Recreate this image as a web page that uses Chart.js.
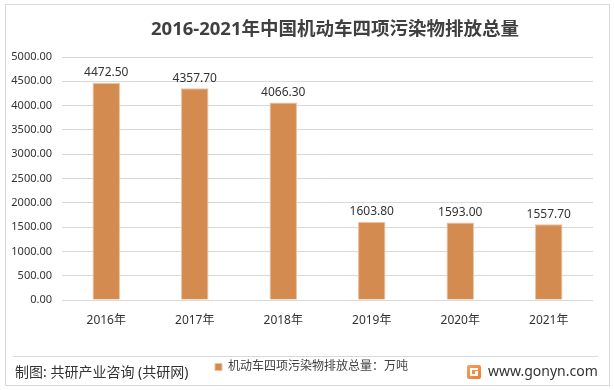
<!DOCTYPE html>
<html>
<head>
<meta charset="utf-8">
<script src="https://cdn.jsdelivr.net/npm/chart.js@4.4.1/dist/chart.umd.min.js"></script>
<style>
  html, body { margin: 0; padding: 0; background: #fff; }
  #wrap { width: 614px; height: 390px; position: relative; }
</style>
</head>
<body>
<div id="wrap"><canvas id="barChart" width="614" height="390"></canvas></div>
<script>
'use strict'

// data
var years = ['2016年', '2017年', '2018年', '2019年', '2020年', '2021年'];
var emissions = [4472.50, 4357.70, 4066.30, 1603.80, 1593.00, 1557.70];
var seriesName = '机动车四项污染物排放总量：万吨';
var chartTitle = '2016-2021年中国机动车四项污染物排放总量';
var sourceText = '制图: 共研产业咨询 (共研网)';
var siteText = 'www.gonyn.com';

var FONT = '"Noto Sans", "Noto Sans CJK SC", sans-serif';
var barColor = '#D38B4F';

// frame, title, value labels and footer
var decor = {
  id: 'decor',
  afterLayout: function(chart) {
    // legend sits a bit right of centre in the original
    chart.legend.left += 15;
    chart.legend.right += 15;
  },
  beforeDraw: function(chart) {
    var c = chart.ctx;
    c.save();
    c.fillStyle = '#fff';
    c.fillRect(0, 0, chart.width, chart.height);
    c.strokeStyle = '#D9D9D9';
    c.lineWidth = 1;
    c.strokeRect(5.5, 4.5, 604, 381);
    c.beginPath();
    c.moveTo(13, 356.5);
    c.lineTo(598, 356.5);
    c.stroke();
    c.restore();
  },
  afterDatasetsDraw: function(chart) {
    var c = chart.ctx;
    c.save();
    // title
    c.fillStyle = '#404040';
    c.font = 'bold 18.5px ' + FONT;
    c.textAlign = 'center';
    c.textBaseline = 'middle';
    c.fillText(chartTitle, 335, 30);

    // value labels
    c.font = '12px ' + FONT;
    c.fillStyle = '#333';
    c.textBaseline = 'bottom';
    chart.getDatasetMeta(0).data.forEach(function(bar, i) {
      c.fillText(emissions[i].toFixed(2), bar.x, bar.y - 4);
    });

    // footer
    c.textAlign = 'left';
    c.textBaseline = 'middle';
    c.font = '14px ' + FONT;
    c.fillStyle = '#333';
    c.fillText(sourceText, 15, 373);
    c.fillText(siteText, 488, 372);

    // logo
    var g = c.createLinearGradient(467, 365, 481, 379);
    g.addColorStop(0, '#F7A35C');
    g.addColorStop(1, '#EE7B30');
    c.fillStyle = g;
    c.beginPath();
    c.roundRect(467, 365, 14, 14, 2);
    c.fill();
    c.fillStyle = '#fff';
    c.fillRect(470, 368, 8, 2);
    c.fillRect(470, 368, 2, 8);
    c.fillRect(470, 374, 8, 2);
    c.fillRect(475, 371, 3, 5);
    c.restore();
  }
};

var ctx = document.getElementById('barChart');

var barChart = new Chart(ctx, {
  type: 'bar',
  data: {
    labels: years,
    datasets: [{
      label: seriesName,
      data: emissions,
      backgroundColor: barColor,
      borderColor: '#EBC19E',
      borderWidth: 1,
      barPercentage: 0.31,
      categoryPercentage: 1
    }]
  },
  options: {
    responsive: false,
    animation: false,
    layout: { padding: { top: 57, right: 21, bottom: 7, left: 0 } },
    plugins: {
      title: { display: false },
      tooltip: { enabled: false },
      legend: {
        position: 'bottom',
        labels: {
          boxWidth: 7,
          boxHeight: 7,
          padding: 8,
          color: '#404040',
          font: { family: FONT, size: 12 }
        }
      }
    },
    scales: {
      x: {
        grid: { display: false },
        border: { display: false },
        ticks: {
          color: '#333',
          font: { family: FONT, size: 12 },
          padding: 5
        },
        afterFit: function(scale) { scale.height = 53; }
      },
      y: {
        min: 0,
        max: 5000,
        grid: { color: '#D9D9D9', drawTicks: false },
        border: { display: false },
        ticks: {
          stepSize: 500,
          color: '#333',
          padding: 10,
          font: { family: FONT, size: 11 },
          callback: function(v) { return v.toFixed(2); }
        },
        afterFit: function(scale) { scale.width = 62; }
      }
    }
  },
  plugins: [decor]
});
</script>
</body>
</html>
